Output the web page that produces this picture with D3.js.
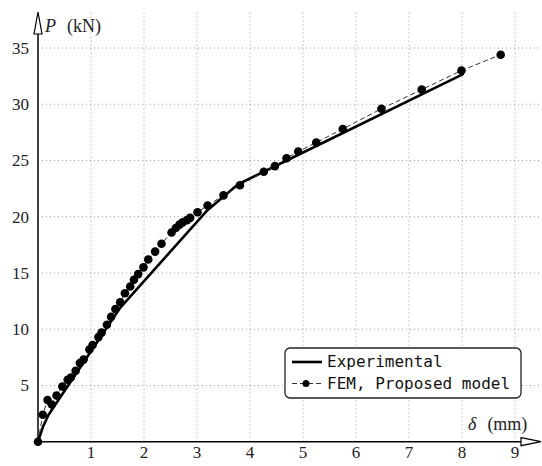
<!DOCTYPE html>
<html>
<head>
<meta charset="utf-8">
<script src="https://cdn.jsdelivr.net/npm/d3@7"></script>
<style>
  body { margin: 0; background: #fff; }
  svg { display: block; }
</style>
</head>
<body>
<svg id="chart" width="542" height="466"></svg>
<script>
"use strict";

// experimental load-displacement curve
var expDelta = [0, 0.1, 0.2, 0.3, 1.55, 3.18, 3.78, 5.3, 8.03];
var expLoad  = [0, 1.4, 2.4, 3.1, 11.9, 20.5, 22.9, 26.4, 32.7];

// FEM, proposed model
var femDelta = [0, 0.09, 0.18, 0.26, 0.35, 0.46, 0.56, 0.62, 0.71, 0.79, 0.86, 0.97, 1.03,
  1.14, 1.2, 1.3, 1.38, 1.46, 1.55, 1.64, 1.74, 1.81, 1.89, 1.99, 2.08, 2.21, 2.33,
  2.52, 2.6, 2.67, 2.73, 2.81, 2.87, 3.01, 3.2, 3.5, 3.81, 4.26, 4.47, 4.69, 4.91,
  5.25, 5.75, 6.48, 7.24, 7.99, 8.73];
var femLoad = [0, 2.4, 3.7, 3.3, 4.1, 4.9, 5.5, 5.7, 6.3, 7.0, 7.3, 8.2, 8.6,
  9.3, 9.7, 10.4, 11.1, 11.8, 12.4, 13.2, 13.8, 14.4, 14.9, 15.5, 16.2, 16.9, 17.6,
  18.6, 19.0, 19.3, 19.5, 19.7, 19.9, 20.4, 21.0, 21.9, 22.8, 24.0, 24.5, 25.2, 25.8,
  26.6, 27.8, 29.6, 31.3, 33.0, 34.4];

var xTicks = [1, 2, 3, 4, 5, 6, 7, 8, 9];
var yTicks = [5, 10, 15, 20, 25, 30, 35];

var legendLabels = ["Experimental", "FEM, Proposed model"];

var SERIF = "'Liberation Serif', 'DejaVu Serif', serif";
var MONO = "'DejaVu Sans Mono', 'Liberation Mono', monospace";

var svg = d3.select("#chart");

var x = d3.scaleLinear().domain([0, 9]).range([38, 515]);
var y = d3.scaleLinear().domain([0, 35]).range([441.7, 48]);

var xEnd = 541, yTop = 12;

// dotted grid
var grid = svg.append("g")
  .attr("stroke", "#9a9a9a")
  .attr("stroke-width", 1)
  .attr("stroke-dasharray", "1,3");

grid.selectAll(".vg").data(xTicks).enter().append("line")
  .attr("x1", function(d) { return x(d); })
  .attr("x2", function(d) { return x(d); })
  .attr("y1", y(0))
  .attr("y2", yTop);

grid.selectAll(".hg").data(yTicks).enter().append("line")
  .attr("x1", x(0))
  .attr("x2", xEnd)
  .attr("y1", function(d) { return y(d); })
  .attr("y2", function(d) { return y(d); });

// tick labels
svg.selectAll(".xl").data(xTicks).enter().append("text")
  .attr("font-family", SERIF)
  .attr("font-size", 17)
  .attr("fill", "#222")
  .attr("x", function(d) { return x(d); })
  .attr("y", 458)
  .attr("text-anchor", "middle")
  .text(function(d) { return d; });

svg.selectAll(".yl").data(yTicks).enter().append("text")
  .attr("font-family", SERIF)
  .attr("font-size", 17)
  .attr("fill", "#222")
  .attr("x", 29)
  .attr("y", function(d) { return y(d) + 6; })
  .attr("text-anchor", "end")
  .text(function(d) { return d; });

// experimental curve
var line = d3.line()
  .x(function(i) { return x(expDelta[i]); })
  .y(function(i) { return y(expLoad[i]); });

svg.append("path")
  .datum(d3.range(expDelta.length))
  .attr("d", line)
  .attr("fill", "none")
  .attr("stroke", "#000")
  .attr("stroke-width", 2.6)
  .attr("stroke-linejoin", "round");

// FEM curve
var femLine = d3.line()
  .x(function(i) { return x(femDelta[i]); })
  .y(function(i) { return y(femLoad[i]); });

svg.append("path")
  .datum(d3.range(femDelta.length))
  .attr("d", femLine)
  .attr("fill", "none")
  .attr("stroke", "#333")
  .attr("stroke-width", 1)
  .attr("stroke-dasharray", "5,3");

svg.selectAll(".fem").data(d3.range(femDelta.length)).enter().append("circle")
  .attr("cx", function(i) { return x(femDelta[i]); })
  .attr("cy", function(i) { return y(femLoad[i]); })
  .attr("r", 4.3)
  .attr("fill", "#000");

// axes with open arrow heads
var axes = svg.append("g").attr("stroke", "#000").attr("stroke-width", 1.5);
axes.append("line")
  .attr("x1", x(0)).attr("x2", xEnd - 18)
  .attr("y1", y(0)).attr("y2", y(0));
axes.append("line")
  .attr("x1", x(0)).attr("x2", x(0))
  .attr("y1", y(0)).attr("y2", yTop + 20);

axes.append("path")
  .attr("d", "M" + (xEnd - 20) + "," + (y(0) - 4) + " L" + xEnd + "," + y(0) +
    " L" + (xEnd - 20) + "," + (y(0) + 4) + " Z")
  .attr("fill", "#fff")
  .attr("stroke-width", 1.2);
axes.append("path")
  .attr("d", "M" + (x(0) - 4) + "," + (yTop + 22) + " L" + x(0) + "," + yTop +
    " L" + (x(0) + 4) + "," + (yTop + 22) + " Z")
  .attr("fill", "#fff")
  .attr("stroke-width", 1.2);

// axis titles
var yt = svg.append("text")
  .attr("font-family", SERIF).attr("font-size", 18).attr("fill", "#222")
  .attr("x", 45).attr("y", 32);
yt.append("tspan").attr("font-style", "italic").text("P");
yt.append("tspan").attr("dx", 11).text("(kN)");

var xt = svg.append("text")
  .attr("font-family", SERIF).attr("font-size", 18).attr("fill", "#222")
  .attr("x", 468).attr("y", 430);
xt.append("tspan").attr("font-style", "italic").text("δ");
xt.append("tspan").attr("dx", 11).text("(mm)");

// legend
var lg = svg.append("g").attr("transform", "translate(285,348)");
lg.append("rect")
  .attr("width", 236).attr("height", 50)
  .attr("rx", 5).attr("ry", 5)
  .attr("fill", "#fff")
  .attr("stroke", "#222")
  .attr("stroke-width", 1.3);

lg.append("line")
  .attr("x1", 7).attr("x2", 37).attr("y1", 14).attr("y2", 14)
  .attr("stroke", "#000").attr("stroke-width", 2.6);
lg.append("line")
  .attr("x1", 7).attr("x2", 37).attr("y1", 35.5).attr("y2", 35.5)
  .attr("stroke", "#333").attr("stroke-width", 1).attr("stroke-dasharray", "5,3");
lg.append("circle").attr("cx", 21).attr("cy", 35.5).attr("r", 3.5).attr("fill", "#000");

lg.selectAll(".lt").data(legendLabels).enter().append("text")
  .attr("font-family", MONO)
  .attr("font-size", 16)
  .attr("fill", "#111")
  .attr("x", 42)
  .attr("y", function(d, i) { return 19 + i * 21.5; })
  .text(function(d) { return d; });
</script>
</body>
</html>
